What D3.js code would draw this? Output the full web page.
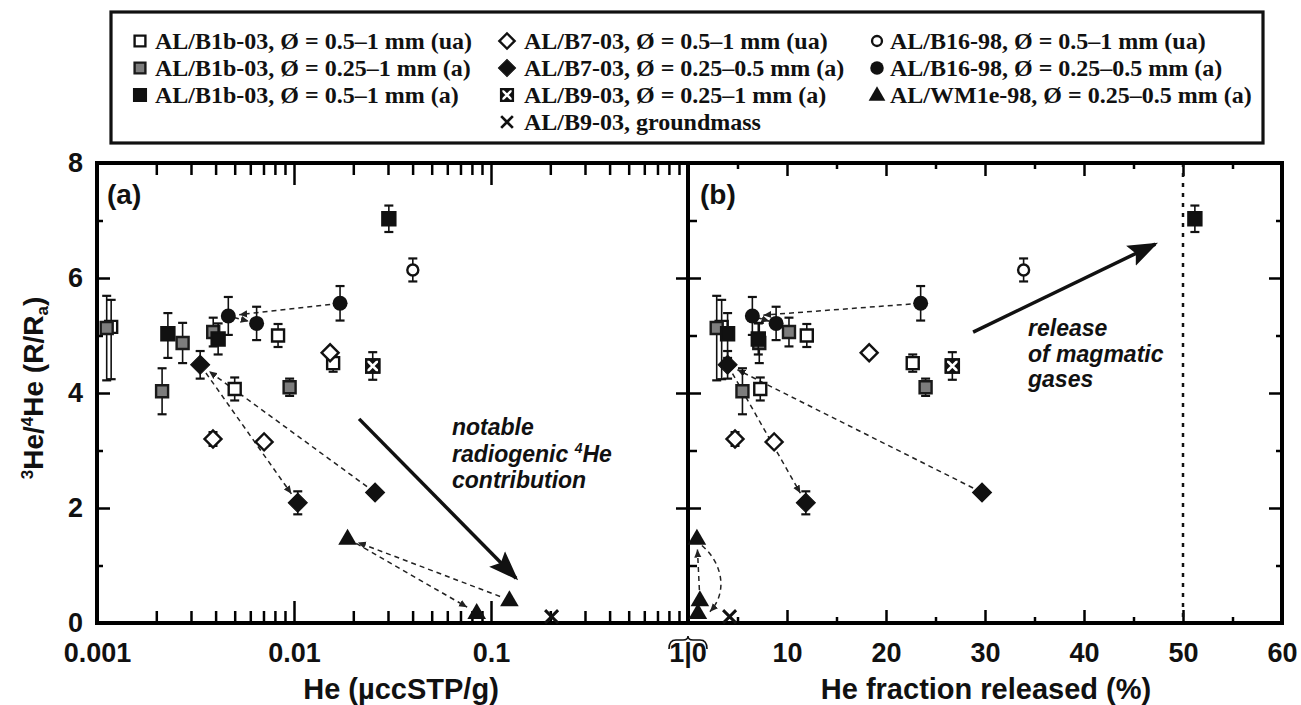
<!DOCTYPE html>
<html><head><meta charset="utf-8">
<script src="https://cdn.jsdelivr.net/npm/d3@7/dist/d3.min.js"></script>
<style>body{margin:0;background:#fff}</style>
</head><body>
<svg id="c" width="1301" height="705"></svg>
<script>
// ---------------- DATA ----------------
// AL/B1b-03, 0.5–1 mm (ua) — open squares
const b1bUA_he   = [0.00118, 0.0083, 0.0050, 0.0158];
const b1bUA_frac = [3.4, 12.0, 7.3, 22.7];
const b1bUA_r    = [5.15, 5.00, 4.07, 4.52];
const b1bUA_lo   = [0.91, 0.20, 0.20, 0.15];
const b1bUA_hi   = [0.47, 0.20, 0.20, 0.15];
// AL/B1b-03, 0.25–1 mm (a) — grey squares
const b1bA1_he   = [0.00112, 0.00272, 0.00214, 0.00389, 0.0095];
const b1bA1_frac = [2.9, 7.2, 5.5, 10.2, 24.0];
const b1bA1_r    = [5.13, 4.87, 4.03, 5.06, 4.10];
const b1bA1_lo   = [0.91, 0.35, 0.40, 0.25, 0.15];
const b1bA1_hi   = [0.56, 0.35, 0.40, 0.25, 0.15];
// AL/B1b-03, 0.5–1 mm (a) — black squares
const b1bA2_he   = [0.00229, 0.00412, 0.0303];
const b1bA2_frac = [4.0, 7.1, 51.2];
const b1bA2_r    = [5.03, 4.94, 7.03];
const b1bA2_lo   = [0.42, 0.27, 0.23];
const b1bA2_hi   = [0.36, 0.27, 0.23];
// AL/B7-03, 0.5–1 mm (ua) — open diamonds
const b7UA_he    = [0.00388, 0.00705, 0.01525];
const b7UA_frac  = [4.75, 8.7, 18.3];
const b7UA_r     = [3.20, 3.15, 4.70];
const b7UA_lo    = [0.12, 0, 0];
const b7UA_hi    = [0.12, 0, 0];
// AL/B7-03, 0.25–0.5 mm (a) — black diamonds
const b7A_he     = [0.00334, 0.01045, 0.0258];
const b7A_frac   = [4.0, 11.9, 29.7];
const b7A_r      = [4.49, 2.09, 2.27];
const b7A_lo     = [0.24, 0.20, 0];
const b7A_hi     = [0.24, 0.20, 0];
// AL/B9-03, 0.25–1 mm (a) — crossed squares
const b9A_he     = [0.0251];
const b9A_frac   = [26.7];
const b9A_r      = [4.47];
const b9A_lo     = [0.24];
const b9A_hi     = [0.24];
// AL/B9-03, groundmass — x
const b9G_he     = [0.203];
const b9G_frac   = [4.2];
const b9G_r      = [0.11];
const b9G_lo     = [0];
const b9G_hi     = [0];
// AL/B16-98, 0.5–1 mm (ua) — open circles
const b16UA_he   = [0.0401];
const b16UA_frac = [33.9];
const b16UA_r    = [6.14];
const b16UA_lo   = [0.20];
const b16UA_hi   = [0.20];
// AL/B16-98, 0.25–0.5 mm (a) — black circles
const b16A_he    = [0.00464, 0.00646, 0.01713];
const b16A_frac  = [6.5, 8.9, 23.5];
const b16A_r     = [5.34, 5.21, 5.56];
const b16A_lo    = [0.33, 0.29, 0.30];
const b16A_hi    = [0.33, 0.29, 0.30];
// AL/WM1e-98, 0.25–0.5 mm (a) — black triangles
const wm_he      = [0.0187, 0.124, 0.0846];
const wm_frac    = [0.9, 1.2, 1.0];
const wm_r       = [1.47, 0.40, 0.18];
const wm_lo      = [0, 0, 0];
const wm_hi      = [0, 0, 0];

// step sequences (index pairs: from -> to)
const b16A_steps = [[2, 0], [0, 1]];
const b7A_steps  = [[0, 1], [2, 0]];
const wm_steps   = [[1, 0], [0, 2]];

// trend arrows [x0, y0, x1, y1] in data units
const arrowA = [0.0214, 3.55, 0.134, 0.78];
const arrowB = [28.8, 5.06, 47.2, 6.59];

// ticks
const yMajor = [2, 4, 6];
const yMinor = [1, 3, 5, 7];
const yLabels = [0, 2, 4, 6, 8];
const xADecades = [0.01, 0.1];
const xAMinor = [2,3,4,5,6,7,8,9,20,30,40,50,60,70,80,90,200,300,400,500,600,700,800,900].map(v => v / 1000);
const xALabels = [0.001, 0.01, 0.1];
const xBMajor = [10, 20, 30, 40, 50];
const xBMinor = [5, 15, 25, 35, 45, 55];
const xBLabels = [10, 20, 30, 40, 50, 60];

const legendLabels = [
  "AL/B1b-03, Ø = 0.5–1 mm (ua)",
  "AL/B1b-03, Ø = 0.25–1 mm (a)",
  "AL/B1b-03, Ø = 0.5–1 mm (a)",
  "AL/B7-03, Ø = 0.5–1 mm (ua)",
  "AL/B7-03, Ø = 0.25–0.5 mm (a)",
  "AL/B9-03, Ø = 0.25–1 mm (a)",
  "AL/B9-03, groundmass",
  "AL/B16-98, Ø = 0.5–1 mm (ua)",
  "AL/B16-98, Ø = 0.25–0.5 mm (a)",
  "AL/WM1e-98, Ø = 0.25–0.5 mm (a)"
];

// ---------------- SETUP ----------------
const series = [
  {sym:'sqOpen',  he:b1bUA_he, frac:b1bUA_frac, r:b1bUA_r, lo:b1bUA_lo, hi:b1bUA_hi},
  {sym:'sqGrey',  he:b1bA1_he, frac:b1bA1_frac, r:b1bA1_r, lo:b1bA1_lo, hi:b1bA1_hi},
  {sym:'sqBlack', he:b1bA2_he, frac:b1bA2_frac, r:b1bA2_r, lo:b1bA2_lo, hi:b1bA2_hi},
  {sym:'diaOpen', he:b7UA_he,  frac:b7UA_frac,  r:b7UA_r,  lo:b7UA_lo,  hi:b7UA_hi},
  {sym:'diaBlack',he:b7A_he,   frac:b7A_frac,   r:b7A_r,   lo:b7A_lo,   hi:b7A_hi, steps:b7A_steps},
  {sym:'sqCross', he:b9A_he,   frac:b9A_frac,   r:b9A_r,   lo:b9A_lo,   hi:b9A_hi},
  {sym:'x',       he:b9G_he,   frac:b9G_frac,   r:b9G_r,   lo:b9G_lo,   hi:b9G_hi},
  {sym:'cirOpen', he:b16UA_he, frac:b16UA_frac, r:b16UA_r, lo:b16UA_lo, hi:b16UA_hi},
  {sym:'cirBlack',he:b16A_he,  frac:b16A_frac,  r:b16A_r,  lo:b16A_lo,  hi:b16A_hi, steps:b16A_steps},
  {sym:'tri',     he:wm_he,    frac:wm_frac,    r:wm_r,    lo:wm_lo,    hi:wm_hi, steps:wm_steps}
];

const svg = d3.select('#c');
const T = 163, B = 623, L = 97, M = 688, R = 1282;
const xA = d3.scaleLog().domain([0.001, 1]).range([L, M]);
const xB = d3.scaleLinear().domain([0, 60]).range([M, R]);
const y  = d3.scaleLinear().domain([0, 8]).range([B, T]);
const SANS = "'Liberation Sans', Arial, sans-serif";
const SERIF = "'Liberation Serif', 'Times New Roman', serif";

// defs: arrowheads
const defs = svg.append('defs');
defs.append('marker').attr('id','ah').attr('viewBox','0 0 10 10').attr('refX',10).attr('refY',5)
  .attr('markerUnits','userSpaceOnUse').attr('markerWidth',8).attr('markerHeight',8).attr('orient','auto')
  .append('path').attr('d','M0,0.5 L10,5 L0,9.5 Z').attr('fill','#222');
defs.append('marker').attr('id','big').attr('viewBox','0 0 10 10').attr('refX',9).attr('refY',5)
  .attr('markerUnits','userSpaceOnUse').attr('markerWidth',30).attr('markerHeight',30).attr('orient','auto')
  .append('path').attr('d','M0,1.3 L10,5 L0,8.7 L1.8,5 Z').attr('fill','#111');

// ---------------- AXES / TICKS ----------------
function tickAxis(gen, tx, ty) {
  const g = svg.append('g').attr('transform', `translate(${tx},${ty})`).call(gen);
  g.select('.domain').remove();
  g.selectAll('line').attr('stroke', '#000').attr('stroke-width', 2.5);
  g.selectAll('text').remove();
  return g;
}
tickAxis(d3.axisBottom(xA).tickValues(xADecades).tickSize(-22), 0, B);
tickAxis(d3.axisBottom(xA).tickValues(xAMinor).tickSize(-12), 0, B);
tickAxis(d3.axisTop(xA).tickValues(xADecades).tickSize(-22), 0, T);
tickAxis(d3.axisTop(xA).tickValues(xAMinor).tickSize(-12), 0, T);
tickAxis(d3.axisBottom(xB).tickValues(xBMajor).tickSize(-13), 0, B);
tickAxis(d3.axisBottom(xB).tickValues(xBMinor).tickSize(-6), 0, B);
tickAxis(d3.axisTop(xB).tickValues(xBMajor).tickSize(-13), 0, T);
tickAxis(d3.axisTop(xB).tickValues(xBMinor).tickSize(-6), 0, T);
tickAxis(d3.axisLeft(y).tickValues(yMajor).tickSize(-13), L, 0);
tickAxis(d3.axisLeft(y).tickValues(yMinor).tickSize(-6), L, 0);
tickAxis(d3.axisRight(y).tickValues(yMajor).tickSize(-13), R, 0);
tickAxis(d3.axisRight(y).tickValues(yMinor).tickSize(-6), R, 0);
tickAxis(d3.axisLeft(y).tickValues(yMajor).tickSize(12), M, 0);
tickAxis(d3.axisRight(y).tickValues(yMajor).tickSize(13), M, 0);
tickAxis(d3.axisRight(y).tickValues(yMinor).tickSize(9), M, 0);
tickAxis(d3.axisLeft(y).tickValues(yMinor).tickSize(2), M, 0);

// dotted 50% line
svg.append('line').attr('x1', xB(50)).attr('x2', xB(50)).attr('y1', y(8)).attr('y2', y(0))
  .attr('stroke', '#111').attr('stroke-width', 2.5).attr('stroke-dasharray', '4,6');

// frame
svg.append('rect').attr('x', L).attr('y', T).attr('width', R - L).attr('height', B - T)
  .attr('fill', 'none').attr('stroke', '#000').attr('stroke-width', 4);
svg.append('line').attr('x1', M).attr('x2', M).attr('y1', T).attr('y2', B)
  .attr('stroke', '#000').attr('stroke-width', 4);

// tick labels
function labelAxis(gen, tx, ty) {
  const g = svg.append('g').attr('transform', `translate(${tx},${ty})`).call(gen);
  g.select('.domain').remove();
  g.selectAll('line').remove();
  g.selectAll('text').attr('font-family', SANS).attr('font-weight', 'bold').attr('font-size', 27).attr('fill', '#111');
  return g;
}
labelAxis(d3.axisLeft(y).tickValues(yLabels).tickSize(0).tickPadding(14).tickFormat(d3.format('d')), L, 0);
labelAxis(d3.axisBottom(xA).tickValues(xALabels).tickSize(0).tickPadding(20).tickFormat(d => String(d)), 0, B);
labelAxis(d3.axisBottom(xB).tickValues(xBLabels).tickSize(0).tickPadding(20).tickFormat(d3.format('d')), 0, B);
svg.append('text').attr('x', xA(1)).attr('y', B + 39).attr('text-anchor', 'middle')
  .attr('font-family', SANS).attr('font-weight', 'bold').attr('font-size', 27).attr('fill', '#111').text('1|0');
// brace above 1|0
{
  const cx = xA(1), by = B + 13;
  svg.append('path')
    .attr('d', `M${cx-19},${by+13} Q${cx-19},${by+4} ${cx-12},${by+4} L${cx-5},${by+4} Q${cx},${by+4} ${cx},${by} Q${cx},${by+4} ${cx+5},${by+4} L${cx+12},${by+4} Q${cx+19},${by+4} ${cx+19},${by+13}`)
    .attr('fill', 'none').attr('stroke', '#111').attr('stroke-width', 1.6);
}

// axis titles
svg.append('text').attr('x', 401).attr('y', 699).attr('text-anchor', 'middle')
  .attr('font-family', SANS).attr('font-weight', 'bold').attr('font-size', 29).attr('fill', '#111')
  .text('He (µccSTP/g)');
svg.append('text').attr('x', 986).attr('y', 699).attr('text-anchor', 'middle')
  .attr('font-family', SANS).attr('font-weight', 'bold').attr('font-size', 29).attr('fill', '#111')
  .text('He fraction released (%)');
{
  const t = svg.append('text').attr('transform', `translate(43,388) rotate(-90)`)
    .attr('text-anchor', 'middle').attr('font-family', SANS).attr('font-weight', 'bold')
    .attr('font-size', 28).attr('fill', '#111');
  t.append('tspan').attr('font-size', 17).attr('dy', -10).text('3');
  t.append('tspan').attr('dy', 10).text('He/');
  t.append('tspan').attr('font-size', 17).attr('dy', -10).text('4');
  t.append('tspan').attr('dy', 10).text('He (R/R');
  t.append('tspan').attr('font-size', 17).attr('dy', 5).text('a');
  t.append('tspan').attr('dy', -5).text(')');
}

// panel labels
svg.append('text').attr('x', 107).attr('y', 204).attr('font-family', SANS).attr('font-weight', 'bold')
  .attr('font-size', 28).attr('fill', '#111').text('(a)');
svg.append('text').attr('x', 700).attr('y', 204).attr('font-family', SANS).attr('font-weight', 'bold')
  .attr('font-size', 28).attr('fill', '#111').text('(b)');

// annotation texts
{
  const t = svg.append('text').attr('font-family', SANS).attr('font-weight', 'bold').attr('font-style', 'italic')
    .attr('font-size', 23).attr('fill', '#111');
  t.append('tspan').attr('x', 452).attr('y', 435).text('notable');
  t.append('tspan').attr('x', 452).attr('y', 462).text('radiogenic ');
  t.append('tspan').attr('font-size', 14).attr('dy', -9).text('4');
  t.append('tspan').attr('dy', 9).text('He');
  t.append('tspan').attr('x', 452).attr('y', 488).text('contribution');
  const t2 = svg.append('text').attr('font-family', SANS).attr('font-weight', 'bold').attr('font-style', 'italic')
    .attr('font-size', 23).attr('fill', '#111');
  t2.append('tspan').attr('x', 1028).attr('y', 336).text('release');
  t2.append('tspan').attr('x', 1028).attr('y', 362).text('of magmatic');
  t2.append('tspan').attr('x', 1028).attr('y', 387).text('gases');
}

// big trend arrows
svg.append('line').attr('x1', xA(arrowA[0])).attr('y1', y(arrowA[1])).attr('x2', xA(arrowA[2])).attr('y2', y(arrowA[3]))
  .attr('stroke', '#111').attr('stroke-width', 3.5).attr('marker-end', 'url(#big)');
svg.append('line').attr('x1', xB(arrowB[0])).attr('y1', y(arrowB[1])).attr('x2', xB(arrowB[2])).attr('y2', y(arrowB[3]))
  .attr('stroke', '#111').attr('stroke-width', 3.5).attr('marker-end', 'url(#big)');

// ---------------- MARKERS ----------------
function drawMarker(g, sym, cx, cy, k) {
  k = k || 1;
  const sw = 2.4 * Math.min(1, k * 1.1);
  const gg = g.append('g').attr('transform', `translate(${cx},${cy})`);
  const sq = (s) => d3.symbol(d3.symbolSquare, s * s * k * k)();
  switch (sym) {
    case 'sqOpen': gg.append('path').attr('d', sq(12)).attr('fill', '#fff').attr('stroke', '#111').attr('stroke-width', sw); break;
    case 'sqGrey': gg.append('path').attr('d', sq(12)).attr('fill', '#7d7d7d').attr('stroke', '#1a1a1a').attr('stroke-width', sw); break;
    case 'sqBlack': gg.append('path').attr('d', sq(13)).attr('fill', '#111').attr('stroke', '#111').attr('stroke-width', sw); break;
    case 'diaOpen': gg.append('path').attr('d', sq(12)).attr('transform', 'rotate(45)').attr('fill', '#fff').attr('stroke', '#111').attr('stroke-width', sw); break;
    case 'diaBlack': gg.append('path').attr('d', sq(13.5)).attr('transform', 'rotate(45)').attr('fill', '#111').attr('stroke', '#111').attr('stroke-width', 1); break;
    case 'sqCross': {
      const h = 6.5 * k;
      gg.append('path').attr('d', sq(13)).attr('fill', '#111').attr('stroke', '#111').attr('stroke-width', sw);
      gg.append('path').attr('d', `M${-h},${-h}L${h},${h}M${-h},${h}L${h},${-h}`).attr('stroke', '#fff').attr('stroke-width', 2.6 * k);
      gg.append('path').attr('d', sq(13)).attr('fill', 'none').attr('stroke', '#111').attr('stroke-width', sw);
      break;
    }
    case 'x': {
      const h = 6.5 * k;
      gg.append('path').attr('d', `M${-h},${-h}L${h},${h}M${-h},${h}L${h},${-h}`).attr('stroke', '#111').attr('stroke-width', 3 * k);
      break;
    }
    case 'cirOpen': gg.append('circle').attr('r', 5.5 * k).attr('fill', '#fff').attr('stroke', '#111').attr('stroke-width', sw); break;
    case 'cirBlack': gg.append('circle').attr('r', 7.5 * k).attr('fill', '#111'); break;
    case 'tri': gg.append('path').attr('d', d3.symbol(d3.symbolTriangle, 150 * k * k)()).attr('transform', 'translate(0,1)').attr('fill', '#111'); break;
  }
}

function shortLine(x0, y0, x1, y1, a, b) {
  const dx = x1 - x0, dy = y1 - y0, len = Math.hypot(dx, dy);
  const ux = dx / len, uy = dy / len;
  return [x0 + ux * a, y0 + uy * a, x1 - ux * b, y1 - uy * b];
}

function panel(xs, key, isB) {
  const g = svg.append('g');
  series.forEach(s => {
    if (!s.steps) return;
    s.steps.forEach(([i, j], n) => {
      const x0 = xs(s[key][i]), y0 = y(s.r[i]), x1 = xs(s[key][j]), y1 = y(s.r[j]);
      if (isB && s.sym === 'tri' && n === 1) {
        g.append('path')
          .attr('d', `M${x0 + 5},${y0 + 7} C${x0 + 26},${y0 + 25} ${x1 + 30},${y1 - 20} ${x1 + 12},${y1 - 1}`)
          .attr('fill', 'none').attr('stroke', '#222').attr('stroke-width', 1.5)
          .attr('stroke-dasharray', '5,4').attr('marker-end', 'url(#ah)');
        return;
      }
      const len = Math.hypot(x1 - x0, y1 - y0);
      const a = Math.min(10, len * 0.2), b = Math.min(11, len * 0.28);
      const p = shortLine(x0, y0, x1, y1, a, b);
      g.append('line').attr('x1', p[0]).attr('y1', p[1]).attr('x2', p[2]).attr('y2', p[3])
        .attr('stroke', '#222').attr('stroke-width', 1.5).attr('stroke-dasharray', '5,4')
        .attr('marker-end', 'url(#ah)');
    });
  });
  series.forEach(s => {
    s.r.forEach((v, i) => {
      const cx = xs(s[key][i]), cy = y(v);
      if (s.lo[i] > 0 || s.hi[i] > 0) {
        const yt = y(v + s.hi[i]), yb = y(v - s.lo[i]);
        g.append('line').attr('x1', cx).attr('x2', cx).attr('y1', yt).attr('y2', yb).attr('stroke', '#111').attr('stroke-width', 1.6);
        g.append('line').attr('x1', cx - 4.5).attr('x2', cx + 4.5).attr('y1', yt).attr('y2', yt).attr('stroke', '#111').attr('stroke-width', 2.2);
        g.append('line').attr('x1', cx - 4.5).attr('x2', cx + 4.5).attr('y1', yb).attr('y2', yb).attr('stroke', '#111').attr('stroke-width', 2.2);
      }
      drawMarker(g, s.sym, cx, cy, 1);
    });
  });
}
panel(xA, 'he', false);
panel(xB, 'frac', true);

// ---------------- LEGEND ----------------
svg.append('rect').attr('x', 111).attr('y', 12).attr('width', 1152).attr('height', 131)
  .attr('fill', '#fff').attr('stroke', '#111').attr('stroke-width', 3.2);
const legCols = [[0, 1, 2], [3, 4, 5, 6], [7, 8, 9]];
const colSym = [140, 507, 877];
const colTxt = [155, 524, 890];
const rowBase = [49, 76, 103, 130];
legCols.forEach((col, c) => {
  col.forEach((si, r) => {
    drawMarker(svg, series[si].sym, colSym[c], rowBase[r] - 8, 0.9);
    svg.append('text').attr('x', colTxt[c]).attr('y', rowBase[r]).attr('font-family', SERIF)
      .attr('font-weight', 'bold').attr('font-size', 24).attr('fill', '#111').text(legendLabels[si]);
  });
});
</script>
</body></html>
